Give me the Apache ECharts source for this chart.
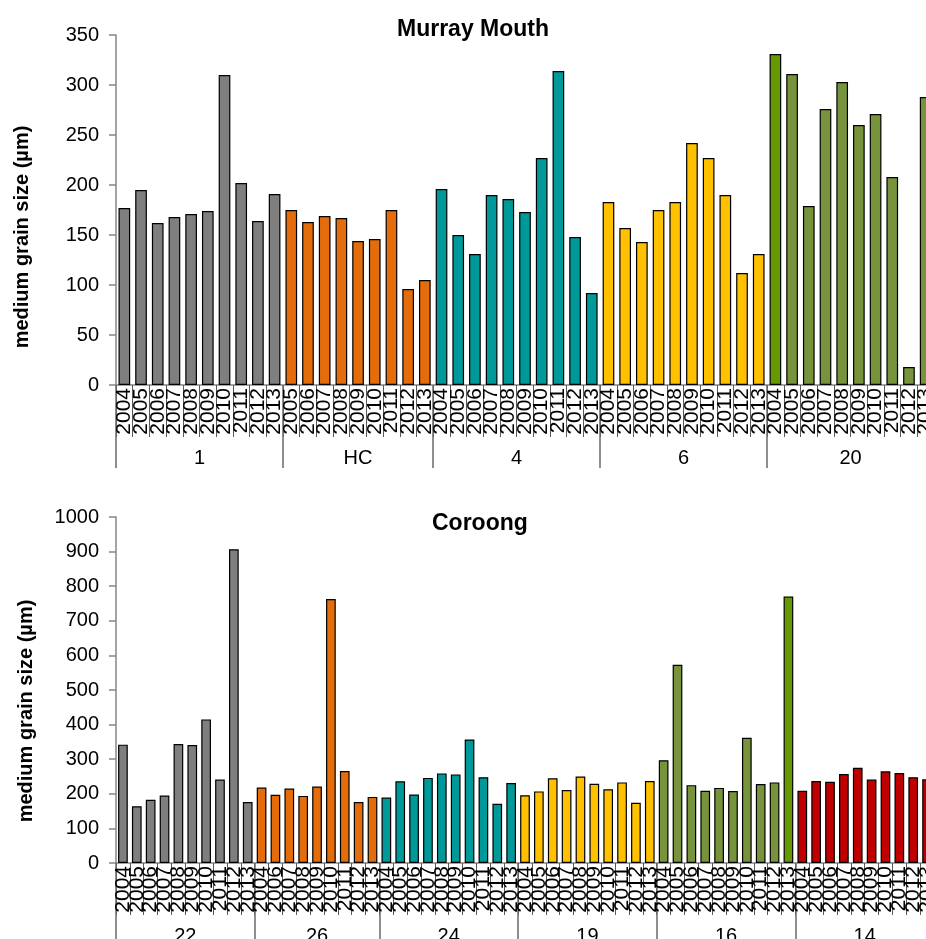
<!DOCTYPE html>
<html>
<head>
<meta charset="utf-8">
<script src="https://cdn.jsdelivr.net/npm/echarts@6/dist/echarts.min.js"></script>
<style>
html, body { margin: 0; padding: 0; overflow: hidden; background: #fff; }
#main { width: 940px; height: 939px; }
</style>
</head>
<body>
<div id="main"></div>
<script>
// Murray Mouth: sites and sampling years
var mmSites = ['1', 'HC', '4', '6', '20'];
var mmYears = [
	[2004, 2005, 2006, 2007, 2008, 2009, 2010, 2011, 2012, 2013],
	[2005, 2006, 2007, 2008, 2009, 2010, 2011, 2012, 2013],
	[2004, 2005, 2006, 2007, 2008, 2009, 2010, 2011, 2012, 2013],
	[2004, 2005, 2006, 2007, 2008, 2009, 2010, 2011, 2012, 2013],
	[2004, 2005, 2006, 2007, 2008, 2009, 2010, 2011, 2012, 2013]
];
var mmValues = [
	[177, 195, 162, 168, 171, 174, 310, 202, 164, 191],
	[175, 163, 169, 167, 144, 146, 175, 96, 105],
	[196, 150, 131, 190, 186, 173, 227, 314, 148, 92],
	[183, 157, 143, 175, 183, 242, 227, 190, 112, 131],
	[331, 311, 179, 276, 303, 260, 271, 208, 18, 288]
];

// Coroong: sites and sampling years
var coSites = ['22', '26', '24', '19', '16', '14'];
var coYears = [
	[2004, 2005, 2006, 2007, 2008, 2009, 2010, 2011, 2012, 2013],
	[2004, 2006, 2007, 2008, 2009, 2010, 2011, 2012, 2013],
	[2004, 2005, 2006, 2007, 2008, 2009, 2010, 2011, 2012, 2013],
	[2004, 2005, 2006, 2007, 2008, 2009, 2010, 2011, 2012, 2013],
	[2004, 2005, 2006, 2007, 2008, 2009, 2010, 2011, 2012, 2013],
	[2004, 2005, 2006, 2007, 2008, 2009, 2010, 2011, 2012, 2013]
];
var coValues = [
	[342, 164, 183, 195, 344, 341, 415, 241, 907, 176],
	[218, 197, 215, 194, 221, 763, 266, 176, 191],
	[189, 236, 198, 246, 259, 256, 357, 248, 171, 231],
	[196, 207, 245, 211, 250, 229, 213, 233, 174, 237],
	[297, 573, 225, 209, 217, 208, 362, 228, 233, 770],
	[209, 237, 235, 257, 275, 241, 265, 260, 248, 242]
];

// colours per site, plus the odd brighter bar
var mmColors = ['#7f7f7f', '#e46c0a', '#009999', '#ffc000', '#77933c'];
var coColors = ['#7f7f7f', '#e46c0a', '#009999', '#ffc000', '#77933c', '#c00000'];
var brightGreen = '#669900';
var mmBright = { site: '20', year: 2004 };
var coBright = { site: '16', year: 2013 };

var FONT = 'Arial, "Liberation Sans", sans-serif';
var AXIS_GREY = '#868686';

function buildPanel(sites, years, values, colors, bright) {
	var cats = [], data = [], bounds = [0], centers = [];
	var pos = 0;
	sites.forEach(function (site, g) {
		years[g].forEach(function (yr, i) {
			cats.push(site + '|' + yr);
			var c = (site === bright.site && yr === bright.year) ? brightGreen : colors[g];
			data.push({ value: values[g][i], itemStyle: { color: c } });
		});
		centers.push(pos + years[g].length / 2);
		pos += years[g].length;
		bounds.push(pos);
	});
	return { cats: cats, data: data, bounds: bounds, centers: centers, total: pos, sites: sites };
}

var mmPanel = buildPanel(mmSites, mmYears, mmValues, mmColors, mmBright);
var coPanel = buildPanel(coSites, coYears, coValues, coColors, coBright);

function yearAxis(panel, gridIndex) {
	return {
		type: 'category',
		gridIndex: gridIndex,
		data: panel.cats,
		position: 'bottom',
		axisLine: { lineStyle: { color: AXIS_GREY, width: 1.5 } },
		axisTick: { show: true, interval: 0, length: 52, lineStyle: { color: '#595959' } },
		axisLabel: {
			interval: 0, rotate: 90, margin: 3,
			fontSize: 21, color: '#000', fontFamily: FONT,
			formatter: function (v) { return v.split('|')[1]; }
		}
	};
}

function siteAxis(panel, gridIndex) {
	return {
		type: 'value',
		gridIndex: gridIndex,
		min: 0,
		max: panel.total,
		position: 'bottom',
		axisLine: { show: false },
		splitLine: { show: false },
		axisTick: { show: true, customValues: panel.bounds, length: 83, lineStyle: { color: '#6a6a6a', width: 1.5 } },
		axisLabel: {
			customValues: panel.centers,
			margin: 63, fontSize: 20, color: '#000', fontFamily: FONT,
			formatter: function (v) {
				var i = panel.centers.indexOf(v);
				return i >= 0 ? panel.sites[i] : '';
			}
		}
	};
}

function valueAxis(gridIndex, max, interval, nameGap, shift) {
	return {
		type: 'value',
		gridIndex: gridIndex,
		min: 0, max: max, interval: interval,
		name: 'medium grain size (µm)',
		nameLocation: 'middle',
		nameRotate: 90,
		nameGap: nameGap,
		nameTextStyle: { fontSize: 20, fontWeight: 'bold', color: '#000', fontFamily: FONT, padding: [0, shift, 0, 0] },
		axisLine: { show: true, lineStyle: { color: AXIS_GREY, width: 1.5 } },
		axisTick: { show: true, length: 7, lineStyle: { color: AXIS_GREY, width: 1.5 } },
		axisLabel: {
			fontSize: 20, color: '#000', margin: 17, fontFamily: FONT,
			formatter: function (v) { return String(v); }
		},
		splitLine: { show: false }
	};
}

function barSeries(panel, xIdx, yIdx) {
	return {
		type: 'bar',
		xAxisIndex: xIdx,
		yAxisIndex: yIdx,
		data: panel.data,
		barCategoryGap: '30%',
		itemStyle: { borderColor: '#000', borderWidth: 1.2 },
		animation: false
	};
}

var chart = echarts.init(document.getElementById('main'));
chart.setOption({
	animation: false,
	textStyle: { fontFamily: FONT },
	title: [
		{ text: 'Murray Mouth', left: 392, top: 13, textStyle: { fontSize: 23, fontWeight: 'bold', color: '#000', fontFamily: FONT } },
		{ text: 'Coroong', left: 427, top: 507, textStyle: { fontSize: 23, fontWeight: 'bold', color: '#000', fontFamily: FONT } }
	],
	grid: [
		{ left: 116, top: 35, width: 818, height: 350, outerBoundsMode: 'none' },
		{ left: 116, top: 517, width: 818, height: 346, outerBoundsMode: 'none' }
	],
	xAxis: [yearAxis(mmPanel, 0), siteAxis(mmPanel, 0), yearAxis(coPanel, 1), siteAxis(coPanel, 1)],
	yAxis: [valueAxis(0, 350, 50, 84, 54), valueAxis(1, 1000, 100, 80, 42)],
	series: [barSeries(mmPanel, 0, 0), barSeries(coPanel, 2, 1)]
});
</script>
</body>
</html>
